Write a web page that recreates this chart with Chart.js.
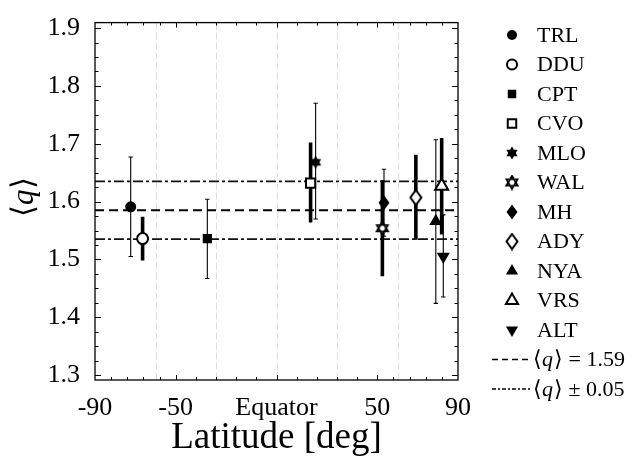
<!DOCTYPE html>
<html>
<head>
<meta charset="utf-8">
<script src="https://cdn.jsdelivr.net/npm/chart.js@4.4.1/dist/chart.umd.min.js"></script>
<style>
  body { margin: 0; background: #fff; }
  #wrap { width: 644px; height: 459px; }
</style>
</head>
<body>
<div id="wrap"><canvas id="q-chart" width="644" height="459"></canvas></div>
<script>
// station data
const stations = ['TRL', 'DDU', 'CPT', 'CVO', 'MLO', 'WAL', 'MH', 'ADY', 'NYA', 'VRS', 'ALT'];
const latitudes = [-72.3, -66.4, -34.3, 16.9, 19.4, 52.5, 53.3, 69.1, 79.0, 81.9, 82.7];
const qMean = [1.591, 1.536, 1.536, 1.632, 1.668, 1.554, 1.598, 1.607, 1.566, 1.627, 1.505];
const qLow  = [1.505, 1.498, 1.467, 1.564, 1.570, 1.471, 1.540, 1.534, 1.424, 1.543, 1.435];
const qHigh = [1.677, 1.574, 1.604, 1.702, 1.770, 1.637, 1.656, 1.681, 1.707, 1.710, 1.577];
const filled = [true, false, true, false, true, false, true, false, true, false, true];
const shapes = ['circle', 'circle', 'rect', 'rect', 'hexagram', 'hexagram', 'diamond', 'diamond', 'triangle', 'triangle', 'triangleDown'];

const qAverage = 1.585;
const qSpread = 0.05;
const refLabels = [' = 1.59', ' \u00b1 0.05'];

// axis ticks
const xTickLabels = [-90, -50, 0, 50, 90];
const xMajorTicks = [-50, 0, 50];
const xMinorTicks = [-82, -74, -66, -58, -40, -30, -20, -10, 10, 20, 30, 40, 58, 66, 74, 82];
const gridLatitudes = [-60, -30, 0, 30, 60];
const yTickLabels = [1.3, 1.4, 1.5, 1.6, 1.7, 1.8, 1.9];
const yMinorTicks = [];
yTickLabels.slice(0, -1).forEach(v => { yMinorTicks.push(v + 0.025, v + 0.05, v + 0.075); });

const SERIF = '"Liberation Serif", "Times New Roman", serif';

// custom marker images
function hexagram(fill) {
  const c = document.createElement('canvas');
  c.width = 16; c.height = 16;
  const g = c.getContext('2d');
  const R = 6.5;
  const tri = (rot) => {
    g.beginPath();
    for (let k = 0; k < 3; k++) {
      const a = rot + k * 2 * Math.PI / 3;
      g.lineTo(8 + R * Math.cos(a), 8 + R * Math.sin(a));
    }
    g.closePath();
  };
  g.fillStyle = fill ? '#000' : '#fff';
  g.strokeStyle = '#000';
  g.lineWidth = 1.6;
  tri(-Math.PI / 2); g.fill(); if (!fill) g.stroke();
  tri(Math.PI / 2); g.fill(); if (!fill) g.stroke();
  if (!fill) { tri(-Math.PI / 2); g.stroke(); }
  return c;
}
function diamond(fill) {
  const c = document.createElement('canvas');
  c.width = 14; c.height = 18;
  const g = c.getContext('2d');
  g.beginPath();
  g.moveTo(7, 1.5); g.lineTo(12.5, 9); g.lineTo(7, 16.5); g.lineTo(1.5, 9);
  g.closePath();
  g.fillStyle = fill ? '#000' : '#fff';
  g.fill();
  if (!fill) { g.lineWidth = 2; g.strokeStyle = '#000'; g.stroke(); }
  return c;
}
const images = {
  hexagram: [hexagram(false), hexagram(true)],
  diamond: [diamond(false), diamond(true)]
};

function markerOptions(i) {
  const s = shapes[i];
  const f = filled[i];
  const o = { rotation: 0, radius: 5.5, borderWidth: f ? 0 : 2 };
  if (s === 'hexagram' || s === 'diamond') { o.pointStyle = images[s][f ? 1 : 0]; o.radius = 7; }
  else if (s === 'rect') { o.pointStyle = 'rect'; o.radius = 6.5; }
  else if (s === 'triangle') { o.pointStyle = 'triangle'; o.radius = 7.5; }
  else if (s === 'triangleDown') { o.pointStyle = 'triangle'; o.radius = 7.5; o.rotation = 180; }
  else { o.pointStyle = 'circle'; }
  return o;
}

const datasets = [];
// mean and +/- spread lines
datasets.push({
  data: [{ x: -90, y: qAverage }, { x: 90, y: qAverage }],
  showLine: true, borderColor: '#000', borderWidth: 1.8, borderDash: [9, 5], pointRadius: 0, order: 3
});
[qAverage + qSpread, qAverage - qSpread].forEach(v => {
  datasets.push({
    data: [{ x: -90, y: v }, { x: 90, y: v }],
    showLine: true, borderColor: '#111', borderWidth: 1.8, borderDash: [10, 3, 3, 3], pointRadius: 0, order: 3
  });
});
stations.forEach((name, i) => {
  const thin = filled[i];
  datasets.push({
    data: [{ x: latitudes[i], y: qLow[i] }, { x: latitudes[i], y: qHigh[i] }],
    showLine: true, borderColor: '#000', borderWidth: thin ? 1.1 : 3.6,
    pointStyle: 'line', pointRadius: thin ? 2.2 : 0, pointBorderWidth: 1.1, pointBorderColor: '#000',
    order: 2
  });
  const m = markerOptions(i);
  datasets.push({
    label: name,
    data: [{ x: latitudes[i], y: qMean[i] }],
    pointStyle: m.pointStyle, pointRadius: m.radius, pointRotation: m.rotation,
    pointBackgroundColor: thin ? '#000' : '#fff', pointBorderColor: '#000', pointBorderWidth: m.borderWidth,
    order: 1
  });
});

function mathText(ctx, x, y, size, tail) {
  // draws <q> + tail, q in italic
  const up = size + 'px ' + SERIF;
  const it = 'italic ' + size + 'px ' + SERIF;
  ctx.font = up; ctx.fillText('\u27e8', x, y); x += ctx.measureText('\u27e8').width;
  ctx.font = it; ctx.fillText('q', x, y); x += ctx.measureText('q').width + 1;
  ctx.font = up; ctx.fillText('\u27e9' + tail, x, y);
}

const framePlugin = {
  id: 'frame',
  beforeDatasetsDraw(chart) {
    const { ctx, chartArea: a, scales: { x } } = chart;
    ctx.save();
    ctx.strokeStyle = '#dedede';
    ctx.lineWidth = 1;
    ctx.setLineDash([7, 3]);
    gridLatitudes.forEach(v => {
      const px = Math.round(x.getPixelForValue(v)) + 0.5;
      ctx.beginPath(); ctx.moveTo(px, a.top); ctx.lineTo(px, a.bottom); ctx.stroke();
    });
    ctx.restore();
  },
  afterDraw(chart) {
    const { ctx, chartArea: a, scales: { x, y } } = chart;
    ctx.save();
    ctx.strokeStyle = '#000';
    ctx.lineWidth = 1.3;
    ctx.strokeRect(a.left, a.top, a.right - a.left, a.bottom - a.top);
    ctx.lineWidth = 1;
    const xt = (v, len) => {
      const px = Math.round(x.getPixelForValue(v)) + 0.5;
      ctx.beginPath();
      ctx.moveTo(px, a.bottom); ctx.lineTo(px, a.bottom - len);
      ctx.moveTo(px, a.top); ctx.lineTo(px, a.top + len);
      ctx.stroke();
    };
    const yt = (v, len) => {
      const py = Math.round(y.getPixelForValue(v)) + 0.5;
      ctx.beginPath();
      ctx.moveTo(a.left, py); ctx.lineTo(a.left + len, py);
      ctx.moveTo(a.right, py); ctx.lineTo(a.right - len, py);
      ctx.stroke();
    };
    xMajorTicks.forEach(v => xt(v, 5));
    xMinorTicks.forEach(v => xt(v, 3));
    yTickLabels.forEach(v => yt(v, 6));
    yMinorTicks.forEach(v => yt(v, 3.5));

    // y axis title
    ctx.fillStyle = '#000';
    ctx.save();
    ctx.translate(33, 217);
    ctx.rotate(-Math.PI / 2);
    ctx.textBaseline = 'alphabetic';
    mathText(ctx, 0, 0, 31, '');
    ctx.restore();

    // legend
    const mx = 512, tx = 537, top = 35, step = 29.5;
    ctx.textBaseline = 'middle';
    stations.forEach((name, i) => {
      const m = markerOptions(i);
      const yy = top + step * i;
      ctx.fillStyle = filled[i] ? '#000' : '#fff';
      ctx.strokeStyle = '#000';
      ctx.lineWidth = m.borderWidth;
      Chart.helpers.drawPoint(ctx, { pointStyle: m.pointStyle, radius: m.radius - 0.5, rotation: m.rotation, borderWidth: m.borderWidth }, mx, yy);
      ctx.fillStyle = '#000';
      ctx.font = '22px ' + SERIF;
      ctx.fillText(name, tx, yy + 1);
    });
    const dashes = [[6, 4], [4, 2, 2, 2]];
    refLabels.forEach((lab, k) => {
      const yy = top + step * (stations.length + k);
      ctx.strokeStyle = '#000';
      ctx.lineWidth = 1.6;
      ctx.setLineDash(dashes[k]);
      ctx.beginPath(); ctx.moveTo(492, yy); ctx.lineTo(530, yy); ctx.stroke();
      ctx.setLineDash([]);
      ctx.fillStyle = '#000';
      mathText(ctx, 533, yy + 1, 22, lab);
    });
    ctx.restore();
  }
};

new Chart(document.getElementById('q-chart'), {
  type: 'scatter',
  data: { datasets: datasets },
  options: {
    responsive: false,
    animation: false,
    events: [],
    layout: { padding: { top: 18, right: 186, left: 0, bottom: 0 } },
    plugins: { legend: { display: false }, tooltip: { enabled: false } },
    scales: {
      x: {
        type: 'linear', min: -90, max: 90,
        afterBuildTicks: s => { s.ticks = xTickLabels.map(v => ({ value: v })); },
        afterFit: s => { s.height = 79; },
        grid: { display: false },
        border: { display: false },
        ticks: {
          autoSkip: false, maxRotation: 0, padding: 5, color: '#000',
          font: { family: SERIF, size: 26 },
          callback: v => (v === 0 ? 'Equator' : String(v))
        },
        title: {
          display: true, text: 'Latitude [deg]', color: '#000',
          font: { family: SERIF, size: 37, lineHeight: 1 }, padding: { top: 0, bottom: 2 }
        }
      },
      y: {
        type: 'linear', min: 1.2915, max: 1.9095,
        afterBuildTicks: s => { s.ticks = yTickLabels.map(v => ({ value: v })); },
        afterFit: s => { s.width = 95; },
        grid: { display: false },
        border: { display: false },
        ticks: {
          padding: 7, color: '#000',
          font: { family: SERIF, size: 26 },
          callback: v => v.toFixed(1)
        }
      }
    }
  },
  plugins: [framePlugin]
});
</script>
</body>
</html>
